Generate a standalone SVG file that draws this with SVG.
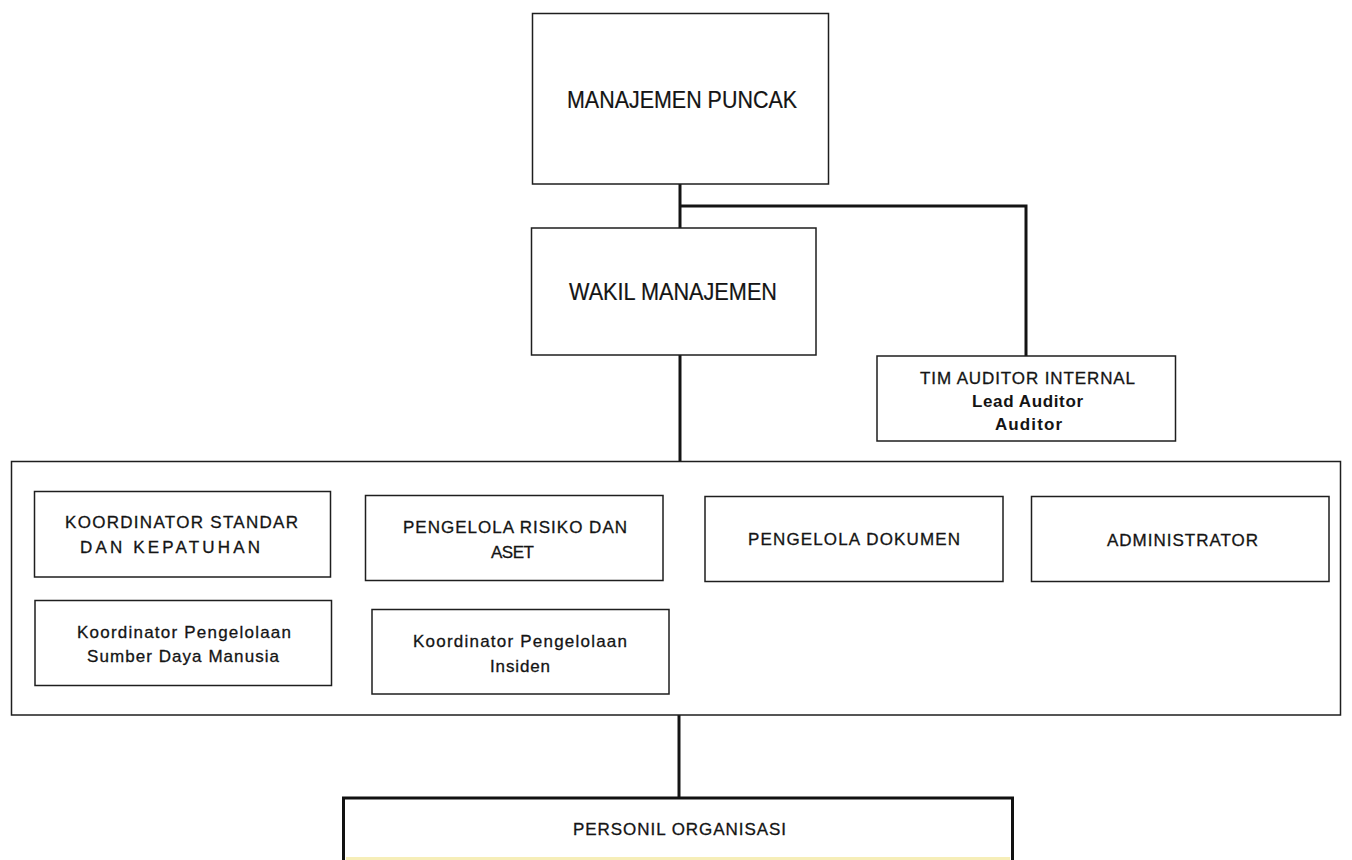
<svg xmlns="http://www.w3.org/2000/svg" width="1352" height="860" viewBox="0 0 1352 860">
<style>
  .box { fill: #ffffff; stroke: #1e1e1e; stroke-width: 1.5; }
  .thick { fill: #ffffff; stroke: #111111; stroke-width: 3; }
  .conn { fill: none; stroke: #141414; stroke-width: 3; }
  .t { font-family: "Liberation Sans", Arial, sans-serif; font-size: 17px; fill: #141414; stroke: #141414; stroke-width: 0.3; }
  .b { font-weight: bold; stroke-width: 0; }
  .big { font-family: "Liberation Sans", Arial, sans-serif; font-size: 23px; fill: #141414; stroke: #141414; stroke-width: 0.2; }
</style>
<rect x="0" y="0" width="1352" height="860" fill="#ffffff"/>

<g id="connectors">
  <path class="conn" d="M680,184 V228"/>
  <path class="conn" d="M680,206 H1026 V356"/>
  <path class="conn" d="M680,355 V461"/>
  <path class="conn" d="M679,715 V798"/>
</g>

<g id="manajemen-puncak">
  <rect class="box" x="532.5" y="13.5" width="296" height="170.5"/>
  <text class="big" x="567" y="108" textLength="230" lengthAdjust="spacingAndGlyphs">MANAJEMEN PUNCAK</text>
</g>

<g id="wakil-manajemen">
  <rect class="box" x="531.5" y="228" width="284.5" height="127"/>
  <text class="big" x="569" y="300" textLength="208" lengthAdjust="spacingAndGlyphs">WAKIL MANAJEMEN</text>
</g>

<g id="tim-auditor-internal">
  <rect class="box" x="877" y="356" width="298.5" height="85"/>
  <text class="t" x="920" y="384" textLength="215">TIM AUDITOR INTERNAL</text>
  <text class="t b" x="972" y="407" textLength="111">Lead Auditor</text>
  <text class="t b" x="995" y="430" textLength="67">Auditor</text>
</g>

<g id="tim-fungsional">
  <rect class="box" x="11.5" y="461.5" width="1329" height="253.5"/>
</g>

<g id="koordinator-standar">
  <rect class="box" x="34.5" y="491.5" width="296" height="85.5"/>
  <text class="t" x="65" y="528" textLength="233">KOORDINATOR STANDAR</text>
  <text class="t" x="80" y="553" textLength="180">DAN KEPATUHAN</text>
</g>

<g id="pengelola-risiko">
  <rect class="box" x="365.5" y="495.5" width="297.5" height="85"/>
  <text class="t" x="403" y="533" textLength="224">PENGELOLA RISIKO DAN</text>
  <text class="t" x="491" y="558" textLength="43">ASET</text>
</g>

<g id="pengelola-dokumen">
  <rect class="box" x="705" y="496.5" width="298" height="85"/>
  <text class="t" x="748" y="545" textLength="212">PENGELOLA DOKUMEN</text>
</g>

<g id="administrator">
  <rect class="box" x="1031.5" y="496.5" width="297.5" height="85"/>
  <text class="t" x="1107" y="546" textLength="151">ADMINISTRATOR</text>
</g>

<g id="koordinator-sdm">
  <rect class="box" x="35" y="600.5" width="296.5" height="85"/>
  <text class="t" x="77" y="638" textLength="214">Koordinator Pengelolaan</text>
  <text class="t" x="87" y="662" textLength="192">Sumber Daya Manusia</text>
</g>

<g id="koordinator-insiden">
  <rect class="box" x="372" y="609.5" width="297" height="84.5"/>
  <text class="t" x="413" y="647" textLength="214">Koordinator Pengelolaan</text>
  <text class="t" x="490" y="672" textLength="60">Insiden</text>
</g>

<g id="personil-organisasi">
  <rect class="thick" x="343.5" y="798" width="669" height="80"/>
  <rect x="346" y="857" width="664" height="3" fill="#f6eeb8"/>
  <text class="t" x="573" y="835" textLength="213">PERSONIL ORGANISASI</text>
</g>
</svg>
